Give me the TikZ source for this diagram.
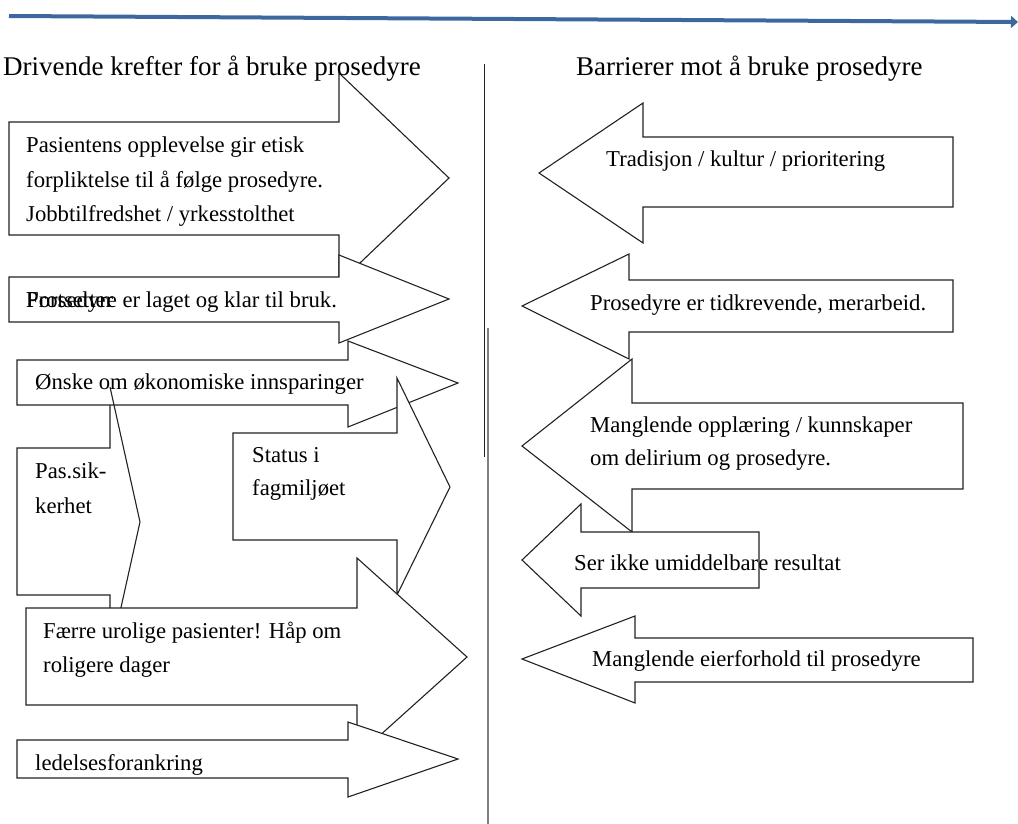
\documentclass[tikz,border=0pt]{standalone}
\usepackage{fontspec}
\setmainfont{Liberation Serif}
\usetikzlibrary{arrows.meta}
\definecolor{tidsblaa}{HTML}{3D689F}
\definecolor{strek}{HTML}{222222}
\begin{document}
\begin{tikzpicture}[x=1pt,y=-1pt,
  pil/.style={draw=strek,fill=white,line width=1.1pt},
  tekst/.style={anchor=base west,inner sep=0pt,font=\fontsize{22.7}{34}\selectfont},
  overskrift/.style={anchor=base west,inner sep=0pt,font=\fontsize{27}{32}\selectfont}]
\useasboundingbox (0,0) rectangle (1018,824);
% tidslinje
\coordinate (tidA) at (9,16);
\coordinate (tidB) at (1018,22);
\draw[tidsblaa,line width=4pt,-{Triangle[length=7pt,width=12pt]}] (tidA) -- (tidB);
% skillelinje
\draw[strek,line width=1pt] (484,64) -- (484,457);
\draw[gray,line width=1.8pt] (488,328) -- (488,824);
% drivende krefter
\draw[pil] (9,122) -- (339,122) -- (339,73) -- (449,178) -- (339,283) -- (339,235) -- (9,235) -- cycle;
\draw[pil] (9,277) -- (339,277) -- (339,255) -- (449,299) -- (339,343) -- (339,322) -- (9,322) -- cycle;
\draw[pil] (17,448) -- (110,448) -- (110,387) -- (140,522) -- (110,657) -- (110,595) -- (17,595) -- cycle;
\draw[pil] (17,360) -- (348,360) -- (348,341) -- (458,383) -- (348,427) -- (348,405) -- (17,405) -- cycle;
\draw[strek,line width=1.1pt] (110,387) -- (114,405); % spiss over boksen
\draw[pil] (233,433) -- (397,433) -- (397,378) -- (450,487) -- (397,595) -- (397,540) -- (233,540) -- cycle;
\draw[pil] (26,608) -- (357,608) -- (357,558) -- (467,657) -- (357,756) -- (357,705) -- (26,705) -- cycle;
\draw[pil] (17,740) -- (348,740) -- (348,722) -- (458,759) -- (348,797) -- (348,778) -- (17,778) -- cycle;
% barrierer
\draw[pil] (953,137) -- (643,137) -- (643,103) -- (539,173) -- (643,243) -- (643,207) -- (953,207) -- cycle;
\draw[pil] (953,280) -- (629,280) -- (629,254) -- (522,306) -- (629,359) -- (629,332) -- (953,332) -- cycle;
\draw[pil] (963,403) -- (632,403) -- (632,359) -- (522,446) -- (632,532) -- (632,489) -- (963,489) -- cycle;
\draw[pil] (759,532) -- (581,532) -- (581,504) -- (522,560) -- (581,616) -- (581,588) -- (759,588) -- cycle;
\draw[pil] (973,638) -- (635,638) -- (635,616) -- (522,659) -- (635,703) -- (635,682) -- (973,682) -- cycle;
% tekster
\node[overskrift] (venstretittel) at (3,76) {Drivende krefter for å bruke prosedyre};
\node[overskrift] (hoyretittel) at (576,76) {Barrierer mot å bruke prosedyre};
\node[tekst] (pasient1) at (26,153) {Pasientens opplevelse gir etisk};
\node[tekst] (pasient2) at (26,188) {forpliktelse til å følge prosedyre.};
\node[tekst] (pasient3) at (26,222) {Jobbtilfredshet / yrkesstolthet};
\node[tekst] (fortsetter) at (26,307) {Fortsetter};
\node[tekst] (klar) at (26,307) {Prosedyre er laget og klar til bruk.};
\node[tekst] (okonomi) at (35,389) {Ønske om økonomiske innsparinger};
\node[tekst] (passik1) at (35,478) {Pas.sik-};
\node[tekst] (passik2) at (35,513) {kerhet};
\node[tekst] (status1) at (252,462) {Status i};
\node[tekst] (status2) at (252,495) {fagmiljøet};
\node[tekst] (faerre1) at (43,638) {Færre urolige pasienter! Håp om};
\node[tekst] (faerre2) at (43,672) {roligere dager};
\node[tekst] (ledelse) at (35,770) {ledelsesforankring};
\node[tekst] (tradisjon) at (606,167) {Tradisjon / kultur / prioritering};
\node[tekst] (tidkrev) at (590,310) {Prosedyre er tidkrevende, merarbeid.};
\node[tekst] (opplaering1) at (590,432) {Manglende opplæring / kunnskaper};
\node[tekst] (opplaering2) at (590,465) {om delirium og prosedyre.};
\node[tekst] (resultat) at (574,570) {Ser ikke umiddelbare resultat};
\node[tekst] (eierforhold) at (592,666) {Manglende eierforhold til prosedyre};
\end{tikzpicture}
\end{document}
